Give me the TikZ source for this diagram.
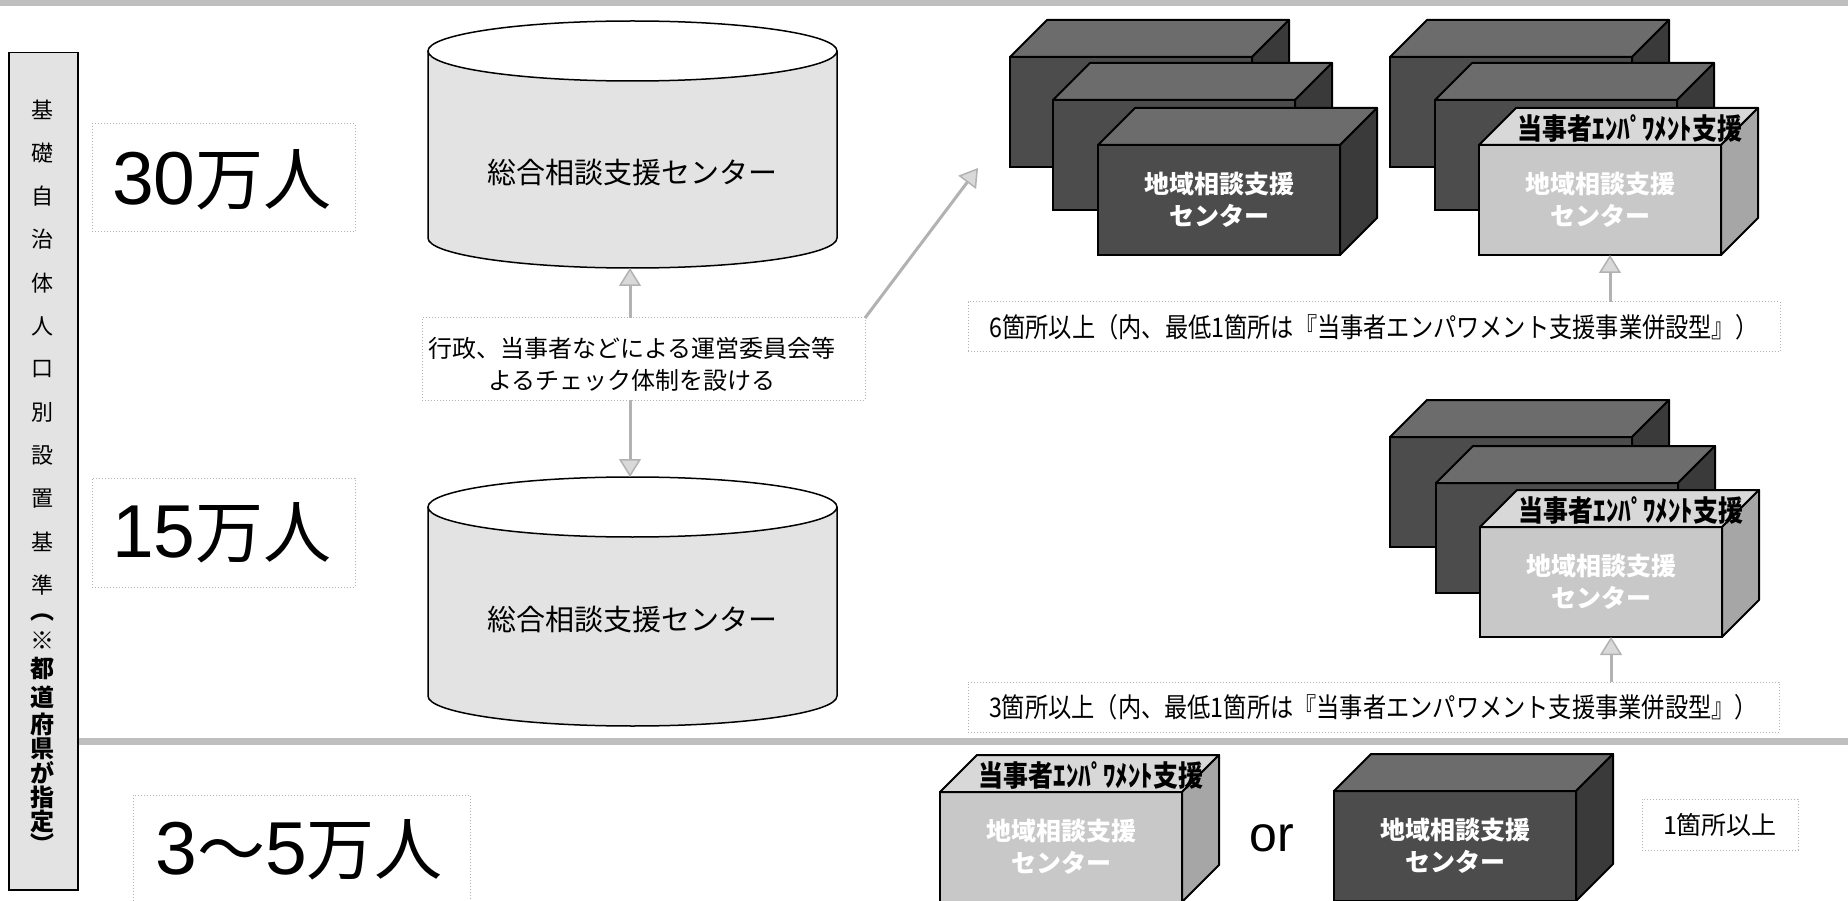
\documentclass[tikz,border=0pt]{standalone}
\usepackage{fontspec}
\setmainfont{Noto Sans CJK JP}
\newfontfamily\lat{Liberation Sans}
\newfontfamily\cjkc{Noto Sans CJK JP}[FakeStretch=0.86]
\usetikzlibrary{arrows.meta,calc}
\definecolor{dkF}{HTML}{4C4C4C}
\definecolor{dkT}{HTML}{6C6C6C}
\definecolor{dkS}{HTML}{3A3A3A}
\definecolor{ltF}{HTML}{C8C8C8}
\definecolor{ltT}{HTML}{D8D8D8}
\definecolor{ltS}{HTML}{A6A6A6}
\newcommand\cub[5]{%
  \node[#4front] (#1) at (#2,#3) {#5};
  \draw[#4top] (#1.north west) -- ++(37,-37) -- ++(242,0) -- (#1.north east) -- cycle;
  \draw[#4side] (#1.north east) -- ++(37,-37) -- ++(0,110) -- (#1.south east) -- cycle;
}
\begin{document}
\begin{tikzpicture}[x=1pt,y=-1pt,
  lab/.style={draw=gray!60, dotted, line width=1pt, fill=white, inner sep=0pt, outer sep=0pt, anchor=north west},
  cubebase/.style={draw=black, line width=2pt, minimum width=242, minimum height=110, inner sep=0pt, outer sep=0pt, anchor=north west, align=center, text=white, font=\bfseries\fontsize{25}{32}\selectfont},
  dkfront/.style={cubebase, fill=dkF},
  ltfront/.style={cubebase, fill=ltF},
  dktop/.style={draw=black, line width=2pt, fill=dkT, line join=round},
  lttop/.style={draw=black, line width=2pt, fill=ltT, line join=round},
  dkside/.style={draw=black, line width=2pt, fill=dkS, line join=round},
  ltside/.style={draw=black, line width=2pt, fill=ltS, line join=round},
  toplab/.style={font=\bfseries\cjkc\fontsize{29}{29}\selectfont, inner sep=0pt, text=black},
  garrow/.style={draw=gray!60, line width=3pt, -{Triangle[length=18pt,width=22pt,fill=gray!30,line width=1.5pt]}},
  cylbody/.style={fill=gray!22},
  cyltext/.style={font=\fontsize{29}{29}\selectfont},
  bigtext/.style={inner sep=0pt}
]
\useasboundingbox (0,0) rectangle (1848,901);
\fill[white] (0,0) rectangle (1848,901);
% bands
\fill[gray!50] (0,0) rectangle (1848,6);
\fill[gray!50] (77,738) rectangle (1848,745);

% left vertical box
\node[draw=black, line width=1.5pt, fill=gray!22, minimum width=69, minimum height=837, anchor=north west, inner sep=0pt] (side) at (8,52) {};
\foreach \c [count=\i from 0] in {基,礎,自,治,体,人,口,別,設,置,基,準}
  \node[font=\fontsize{22}{22}\selectfont, inner sep=0pt] (s\i) at (42.5,{110+43.2*\i}) {\c};
\foreach \c/\yy [count=\i] in {︵/618,※/641,都/668,道/697,府/724,県/749,が/773,指/797,定/821,︶/843}
  \node[font=\bfseries\fontsize{24}{24}\selectfont, inner sep=0pt] (t\i) at (42.5,\yy) {\c};

% population labels
\node[lab, minimum width=263, minimum height=108] (p30) at (92,124) {};
\node[bigtext] (p30t) at (222,180) {{\lat\fontsize{75}{80}\selectfont 30}{\fontsize{68}{80}\selectfont 万人}};
\node[lab, minimum width=263, minimum height=109] (p15) at (92,478) {};
\node[bigtext] (p15t) at (222,533) {{\lat\fontsize{75}{80}\selectfont 15}{\fontsize{68}{80}\selectfont 万人}};
\node[lab, minimum width=337, minimum height=112] (p3) at (133,795) {};
\node[bigtext] (p3t) at (299,850) {{\lat\fontsize{75}{80}\selectfont 3}{\fontsize{68}{80}\selectfont ～}{\lat\fontsize{75}{80}\selectfont 5}{\fontsize{68}{80}\selectfont 万人}};

% cylinder 1
\fill[cylbody] (428,51) -- (428,238) arc[start angle=180,end angle=0,x radius=204.5,y radius=30] -- (837,51) -- cycle;
\draw[line width=1.5pt] (428,51) -- (428,238) arc[start angle=180,end angle=0,x radius=204.5,y radius=30] -- (837,51);
\draw[line width=1.5pt, fill=white] (632.5,51) ellipse[x radius=204.5, y radius=30];
\node[cyltext] (cyl1) at (632,173) {総合相談支援センター};
\coordinate (c1bot) at (630,268);
% cylinder 2
\fill[cylbody] (428,507) -- (428,696) arc[start angle=180,end angle=0,x radius=204.5,y radius=30] -- (837,507) -- cycle;
\draw[line width=1.5pt] (428,507) -- (428,696) arc[start angle=180,end angle=0,x radius=204.5,y radius=30] -- (837,507);
\draw[line width=1.5pt, fill=white] (632.5,507) ellipse[x radius=204.5, y radius=30];
\node[cyltext] (cyl2) at (632,620) {総合相談支援センター};
\coordinate (c2top) at (630,477);

% centre box
\node[lab, minimum width=443, minimum height=82] (cbox) at (422,318) {};
\node[font=\fontsize{24}{32}\selectfont, align=center, inner sep=0pt] (ctext) at (632,364) {行政、当事者などによる運営委員会等\\よるチェック体制を設ける};
\draw[garrow] (cbox.north -| c1bot) -- (c1bot);
\draw[garrow] (cbox.south -| c2top) -- (c2top);
\coordinate (dg) at (978,168);
\draw[garrow] (cbox.north east) -- (dg);

% group A
\cub{Ab}{1010}{57}{dk}{}
\cub{Am}{1053}{100}{dk}{}
\cub{Af}{1098}{145}{dk}{地域相談支援\\センター}
% group B
\cub{Bb}{1390}{57}{dk}{}
\cub{Bm}{1435}{100}{dk}{}
\cub{Bf}{1479}{145}{lt}{地域相談支援\\センター}
\node[toplab] (Bft) at ($(Bf.north)+(30,-17)$) {当事者ｴﾝﾊﾟﾜﾒﾝﾄ支援};
% group C
\cub{Cb}{1390}{437}{dk}{}
\cub{Cm}{1436}{483}{dk}{}
\cub{Cf}{1480}{527}{lt}{地域相談支援\\センター}
\node[toplab] (Cft) at ($(Cf.north)+(30,-17)$) {当事者ｴﾝﾊﾟﾜﾒﾝﾄ支援};
% bottom row
\cub{Df}{940}{792}{lt}{地域相談支援\\センター}
\node[toplab] (Dft) at ($(Df.north)+(30,-17)$) {当事者ｴﾝﾊﾟﾜﾒﾝﾄ支援};
\node[font=\lat\fontsize{50}{50}\selectfont, inner sep=0pt] (or) at (1272,838) {or};
\cub{Ef}{1334}{791}{dk}{地域相談支援\\センター}

% count labels
\node[lab, minimum width=812, minimum height=50, font=\cjkc\fontsize{27}{27}\selectfont] (lab6) at (968,302) {6箇所以上（内、最低1箇所は『当事者エンパワメント支援事業併設型』）};
\node[lab, minimum width=811, minimum height=50, font=\cjkc\fontsize{27}{27}\selectfont] (lab3) at (968,682) {3箇所以上（内、最低1箇所は『当事者エンパワメント支援事業併設型』）};
\node[lab, minimum width=156, minimum height=51, font=\fontsize{25}{25}\selectfont] (lab1) at (1642,799) {1箇所以上};
\coordinate (Bin) at ([xshift=10pt]Bf.south);
\coordinate (Cin) at ([xshift=10pt]Cf.south);
\draw[garrow] (lab6.north -| Bin) -- (Bin);
\draw[garrow] (lab3.north -| Cin) -- (Cin);
\end{tikzpicture}
\end{document}
